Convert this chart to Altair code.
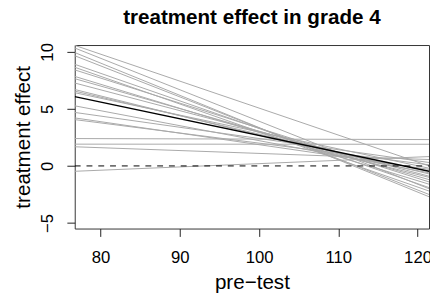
import altair as alt
import pandas as pd

# x-range of the drawn lines (pre-test)
x_start = 76.74
x_end = 121.45

# gray lines: value at left edge and at right edge
gray_left = [10.57, 10.34, 9.94, 9.66, 8.91, 8.65, 8.42, 7.85, 7.65, 7.27, 6.70,
             6.56, 6.42, 5.27, 4.69, 4.21, 4.06, 2.40, 1.91, 1.68, -0.47]
gray_right = [0.00, -2.00, -2.70, -2.50, -1.90, -2.20, -1.40, -1.60, -1.20, -0.90, -1.00,
              -0.70, -0.20, -0.60, 0.30, -0.30, 0.10, 2.31, 1.90, 0.56, 0.82]

# black (average) line
black_left = 6.07
black_right = -0.47

x_ticks = [80, 90, 100, 110, 120]
y_ticks = [-5, 0, 5, 10]
x_domain = [76.74, 121.45]
y_domain = [-5.49, 10.60]

rows = []
for i, (a, b) in enumerate(zip(gray_left, gray_right)):
    rows.append({"id": i, "x": x_start, "y": a})
    rows.append({"id": i, "x": x_end, "y": b})
gray_df = pd.DataFrame(rows)
black_df = pd.DataFrame({"x": [x_start, x_end], "y": [black_left, black_right]})
zero_df = pd.DataFrame({"x": [x_start, x_end], "y": [0, 0]})

FONT = "Liberation Sans"

xenc = alt.X("x:Q", scale=alt.Scale(domain=x_domain, nice=False, zero=False),
             axis=alt.Axis(values=x_ticks, title="pre\u2212test", grid=False, domain=False,
                           tickSize=8, tickColor="#222", labelFontSize=17, labelFont=FONT,
                           labelColor="#000", labelBaseline="alphabetic", labelPadding=27,
                           labelFlush=False, labelOverlap=False,
                           titleFontSize=21, titleFont=FONT, titleFontWeight="normal",
                           titleColor="#000", titleBaseline="alphabetic", titleY=61,
                           titleAnchor="middle"))
yenc = alt.Y("y:Q", scale=alt.Scale(domain=y_domain, nice=False, zero=False),
             axis=alt.Axis(values=y_ticks, title="treatment effect", grid=False, domain=False,
                           tickSize=8, tickColor="#222", labelFontSize=17, labelFont=FONT,
                           labelColor="#000", labelAngle=270, labelAlign="center",
                           labelBaseline="alphabetic", labelPadding=15,
                           labelFlush=False, labelOverlap=False,
                           titleFontSize=21, titleFont=FONT, titleFontWeight="normal",
                           titleColor="#000", titleAngle=270, titleBaseline="alphabetic",
                           titleX=-46, titleY=93.5, titleAlign="center"))

gray = alt.Chart(gray_df).mark_line(color="#a8a8a8", strokeWidth=1, clip=True).encode(
    x=xenc, y=yenc, detail="id:N")
zero = alt.Chart(zero_df).mark_line(color="#000", strokeWidth=1, strokeDash=[6, 6], clip=True).encode(
    x="x:Q", y="y:Q")
black = alt.Chart(black_df).mark_line(color="#000", strokeWidth=1.4, clip=True).encode(
    x="x:Q", y="y:Q")

chart = alt.layer(gray, zero, black).properties(
    width=361, height=187,
    title=alt.TitleParams("treatment effect in grade 4", font=FONT, fontSize=21,
                          fontWeight="bold", color="#000", anchor="middle",
                          baseline="alphabetic", offset=-2, frame="group"),
    autosize=alt.AutoSizeParams(type="none"),
    padding={"left": 68, "top": 35, "right": 1, "bottom": 66},
).configure(
    background="white",
    view=alt.ViewConfig(stroke="#333", strokeWidth=1),
)

chart.save("out.html", embed_options={"renderer": "svg", "actions": False})
